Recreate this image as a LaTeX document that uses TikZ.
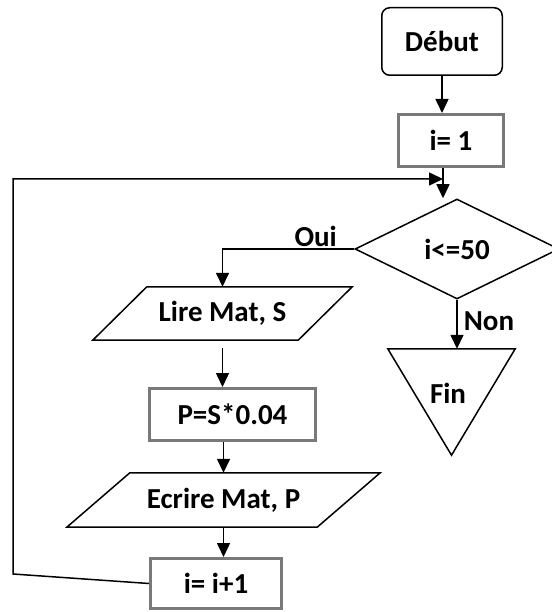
\documentclass[tikz,border=0pt]{standalone}
\usepackage{fontspec}
\setmainfont{Carlito}
\usetikzlibrary{shapes.geometric,arrows.meta}
\tikzset{
  txt/.style={font=\fontsize{29}{34}\selectfont\bfseries, inner sep=0pt},
  line/.style={line width=1.5pt, black},
  arr/.style={line, -{Triangle[length=14pt,width=13pt]}},
  graybox/.style={txt, draw=gray!95!black, line width=3.3pt, rectangle, fill=white},
  startbox/.style={txt, draw, line width=1.5pt, rounded corners=8pt},
  decision/.style={txt, draw, line width=1.5pt, diamond, aspect=2.04, minimum width=204pt, minimum height=100pt},
  frame/.style={txt, minimum width=#1},
}
\begin{document}
\begin{tikzpicture}[x=1pt,y=-1pt]
\useasboundingbox (0,0) rectangle (551,612);
% nodes
\node[startbox, minimum width=120.5pt, minimum height=67.5pt] (debut) at (442,41.5) {Début};
\node[graybox, minimum width=104.7pt, minimum height=51.7pt] (i1) at (451,140.5) {i= 1};
\node[decision] (dia) at (457,249) {i<=50\hspace{18pt}};
\node[frame=259pt, minimum height=53pt] (lire) at (222.5,313.5) {Lire Mat, S};
\node[graybox, minimum width=165.7pt, minimum height=51.7pt] (p) at (232.5,414.5) {P=S*0.04};
\node[frame=313pt, minimum height=54pt] (ecr) at (223.5,500) {Ecrire Mat, P};
\node[graybox, minimum width=130.7pt, minimum height=49.7pt] (iplus) at (216,583.5) {i= i+1};
\node[minimum width=127pt, minimum height=106pt, inner sep=0pt] (fintri) at (451.5,402) {};
\node[txt] (fin) at (448,393) {Fin};
\node[txt, anchor=south east] (oui) at (337,247) {Oui};
\node[txt] (non) at (489,321) {Non};
% parallelograms and triangle
\draw[line] ([xshift=54pt]lire.north west) -- (lire.north east) -- ([xshift=-54pt]lire.south east) -- (lire.south west) -- cycle;
\draw[line] ([xshift=63pt]ecr.north west) -- (ecr.north east) -- ([xshift=-63pt]ecr.south east) -- (ecr.south west) -- cycle;
\draw[line] (fintri.north west) -- (fintri.north east) -- (fintri.south) -- cycle;
% connectors
\coordinate (j) at (443,179);
\coordinate (lc) at (13,574);
\draw[arr] (debut.south) -- (debut.south |- i1.north);
\draw[arr] (i1.south -| j) -- (j |- dia.north);
\draw[arr] (dia.west) -| (lire.north);
\draw[arr, shorten <=8pt] (lire.south) -- (lire.south |- p.north);
\draw[arr] (ecr.north |- p.south) -- (ecr.north);
\draw[arr] (ecr.south) -- (ecr.south |- iplus.north);
\draw[arr] (dia.south) -- (dia.south |- fintri.north);
\draw[arr] (iplus.west) -- (lc) -- (lc |- j) -- (j);
\end{tikzpicture}
\end{document}
